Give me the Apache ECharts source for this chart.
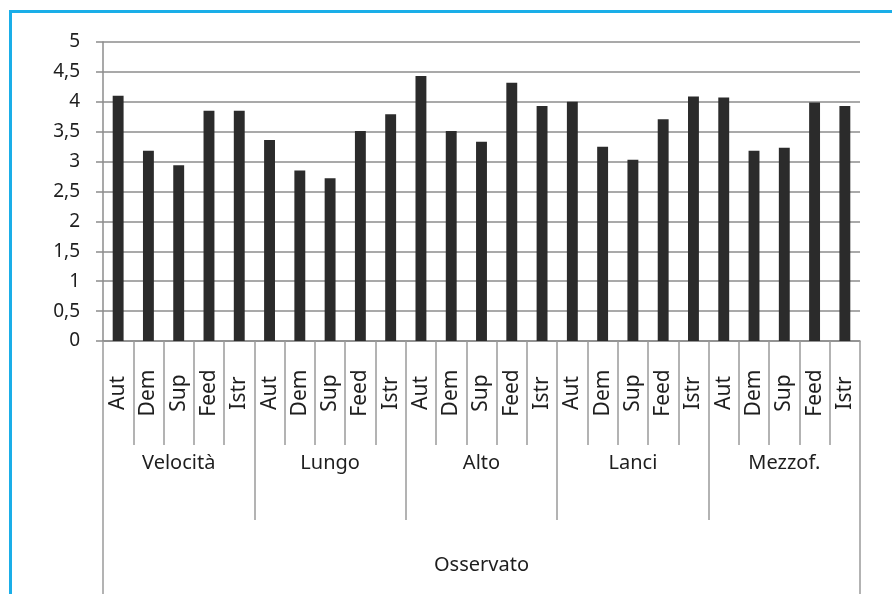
<!DOCTYPE html>
<html>
<head>
<meta charset="utf-8">
<script src="https://cdn.jsdelivr.net/npm/echarts@6/dist/echarts.min.js"></script>
<style>
  html, body { margin: 0; padding: 0; background: #fff; }
  #chart { width: 892px; height: 594px; }
</style>
</head>
<body>
<div id="chart"></div>
<script>
  // sotto-categorie e gruppi
  const items = ['Aut', 'Dem', 'Sup', 'Feed', 'Istr']
  const groups = ['Velocità', 'Lungo', 'Alto', 'Lanci', 'Mezzof.']
  const outer = ['Osservato']

  // valori, un array per gruppo
  const velocita = [4.10, 3.18, 2.94, 3.85, 3.85]
  const lungo = [3.36, 2.85, 2.72, 3.51, 3.79]
  const alto = [4.43, 3.51, 3.33, 4.32, 3.93]
  const lanci = [4.00, 3.25, 3.03, 3.71, 4.09]
  const mezzof = [4.07, 3.18, 3.23, 3.99, 3.93]

  const categories = []
  groups.forEach(() => items.forEach(it => categories.push(it)))
  const values = [...velocita, ...lungo, ...alto, ...lanci, ...mezzof]

  const font = '"Noto Sans", "Open Sans", sans-serif'
  const textColor = '#1e1e1e'
  const lineColor = '#8c8c8c'

  let myChart = echarts.init(document.getElementById('chart'))
  let option = {
    backgroundColor: '#ffffff',
    animation: false,
    grid: { left: 103, right: 32, top: 42, bottom: 253, containLabel: false },
    graphic: [
      // cornice azzurra
      { type: 'rect', shape: { x: 9, y: 10, width: 900, height: 3 }, style: { fill: '#1aaee8' } },
      { type: 'rect', shape: { x: 9, y: 10, width: 3, height: 600 }, style: { fill: '#1aaee8' } }
    ],
    yAxis: {
      type: 'value',
      min: 0,
      max: 5,
      interval: 0.5,
      axisLine: { show: true, lineStyle: { color: lineColor, width: 1.5 } },
      axisTick: { show: true, length: 7, lineStyle: { color: lineColor, width: 1.5 } },
      axisLabel: {
        margin: 23,
        color: textColor,
        fontFamily: font,
        fontSize: 19,
        formatter: v => String(v).replace('.', ',')
      },
      splitLine: { lineStyle: { color: lineColor, width: 1.5 } }
    },
    xAxis: [
      {
        type: 'category',
        data: categories,
        position: 'bottom',
        axisLine: { show: true, lineStyle: { color: lineColor, width: 1.5 } },
        axisTick: { show: true, interval: 0, length: 104, lineStyle: { color: '#9a9a9a', width: 1.5 } },
        axisLabel: {
          interval: 0,
          rotate: 90,
          align: 'center',
          verticalAlign: 'middle',
          margin: 52,
          color: textColor,
          fontFamily: font,
          fontSize: 21
        }
      },
      {
        type: 'category',
        data: groups,
        position: 'bottom',
        axisLine: { show: false },
        axisTick: { show: true, interval: 0, length: 179, lineStyle: { color: '#9a9a9a', width: 1.5 } },
        axisLabel: {
          interval: 0,
          margin: 112,
          color: textColor,
          fontFamily: font,
          fontSize: 20
        }
      },
      {
        type: 'category',
        data: outer,
        position: 'bottom',
        axisLine: { show: false },
        axisTick: { show: true, interval: 0, length: 270, lineStyle: { color: '#9a9a9a', width: 1.5 } },
        axisLabel: {
          interval: 0,
          margin: 214,
          color: textColor,
          fontFamily: font,
          fontSize: 20
        }
      }
    ],
    series: [
      {
        type: 'bar',
        xAxisIndex: 0,
        data: values,
        barWidth: '36%',
        itemStyle: { color: '#2b2b2b' }
      }
    ]
  }
  myChart.setOption(option)
</script>
</body>
</html>
